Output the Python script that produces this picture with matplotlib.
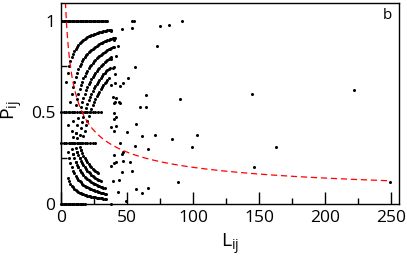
import numpy as np
import matplotlib.pyplot as plt
from matplotlib.ticker import MultipleLocator

FONT = ['Open Sans', 'DejaVu Sans']

# --- sparse points (L, P) ---
L_sparse = [54, 55, 54, 46, 38, 41, 40, 43, 42, 38, 40, 39, 56, 41, 51, 41, 47, 45, 38, 64,
            39, 42, 44, 40, 60, 64, 41, 45, 40, 42, 40, 38, 42, 57, 40, 50, 61, 71, 45, 56,
            66, 47, 46, 40, 47, 42, 40, 52, 38, 46, 54, 44, 39, 57, 61, 66, 43, 49, 38,
            75, 82, 92, 73, 90, 145, 222, 84, 103, 99, 163, 146, 89, 249]
P_sparse = [1.0, 1.0, 0.96, 0.954, 0.944, 0.903, 0.894, 0.861, 0.807, 0.789, 0.748, 0.74, 0.748,
            0.707, 0.685, 0.658, 0.658, 0.643, 0.649, 0.592, 0.585, 0.576, 0.554, 0.549, 0.53,
            0.53, 0.557, 0.552, 0.494, 0.472, 0.461, 0.418, 0.427, 0.436, 0.398, 0.394, 0.372,
            0.376, 0.331, 0.318, 0.298, 0.282, 0.271, 0.267, 0.234, 0.23, 0.222, 0.227, 0.209,
            0.173, 0.181, 0.131, 0.125, 0.082, 0.058, 0.085, 0.067, 0.018, 0.0,
            0.972, 0.974, 0.999, 0.861, 0.574, 0.598, 0.62, 0.354, 0.376, 0.311, 0.311, 0.203,
            0.12, 0.12]

# --- dense region (short paths): flat rows of constant P ---
row_P = [1.0, 0.0, 0.5, 0.33]
row_Lmin = [1, 0, 0, 0]
row_Lmax = [35, 18, 30, 26]
row_step = [1, 1, 2, 2]

# upper arcs: P = (n - m) / n, n = L + 2
upper_m = [2, 4, 6, 8, 10, 12]
upper_Lmin = [4, 5, 7, 9, 11, 13]
upper_Lmax = [38, 40, 40, 38, 37, 36]

# lower arcs: P = k / n, n = L + 2
lower_k = [1, 2, 3, 4, 5]
lower_Lmin = [5, 5, 7, 9, 11]
lower_Lmax = [34, 34, 33, 30, 28]

L_dense, P_dense = [], []
for p, a, b, s in zip(row_P, row_Lmin, row_Lmax, row_step):
    for L in range(a, b + 1, s):
        L_dense.append(L)
        P_dense.append(p)
for m, a, b in zip(upper_m, upper_Lmin, upper_Lmax):
    for L in range(a, b + 1):
        L_dense.append(L)
        P_dense.append((L + 2 - m) / (L + 2))
for k, a, b in zip(lower_k, lower_Lmin, lower_Lmax):
    for L in range(a, b + 1):
        L_dense.append(L)
        P_dense.append(k / (L + 2))

# fitted curve P ~ A / sqrt(L)
fit_A = 2.0
fit_exp = 0.5

fig = plt.figure(figsize=(4.07, 2.56), dpi=100)
ax = fig.add_axes([0.150, 0.203, 0.830, 0.785])

ax.plot(L_dense, P_dense, 'o', color='black', ms=2.2, mec='none', clip_on=False)
ax.plot(L_sparse, P_sparse, 'o', color='black', ms=2.2, mec='none', clip_on=False)

Lfit = np.linspace(3.3, 250, 300)
ax.plot(Lfit, fit_A / Lfit ** fit_exp, '--', color='red', lw=0.9, dashes=(5, 3))

ax.set_xlim(0, 256)
ax.set_ylim(0, 1.095)
ax.xaxis.set_major_locator(MultipleLocator(50))
ax.xaxis.set_minor_locator(MultipleLocator(25))
ax.set_yticks([0, 0.5, 1])
ax.set_yticklabels(['0', '0.5', '1'])
ax.yaxis.set_minor_locator(MultipleLocator(0.25))
ax.tick_params(which='major', direction='in', length=9, width=1, labelsize=12.5)
ax.tick_params(which='minor', direction='in', length=4.5, width=1)
ax.tick_params(axis='x', which='major', pad=4)
ax.tick_params(axis='y', which='major', pad=4)
for s in ax.spines.values():
    s.set_linewidth(1)

for lab in ax.get_xticklabels() + ax.get_yticklabels():
    lab.set_family(FONT)

ax.set_xlabel('L$_{\\mathregular{ij}}$', fontsize=14, family=FONT)
ax.set_ylabel('P$_{\\mathregular{ij}}$', fontsize=14, family=FONT)
ax.xaxis.set_label_coords(0.5, -0.135)
ax.yaxis.set_label_coords(-0.108, 0.47)
ax.text(0.965, 0.94, 'b', transform=ax.transAxes, fontsize=11, ha='center', va='center',
        family=FONT)

fig.savefig('out.png', dpi=100)
